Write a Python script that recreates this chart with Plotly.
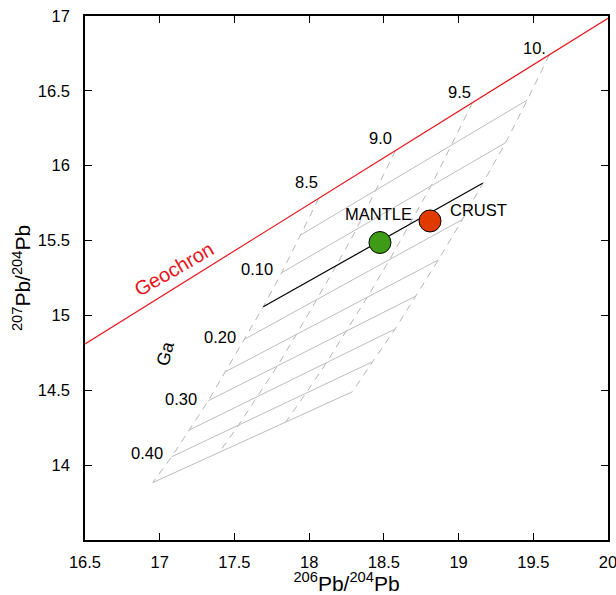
import plotly.graph_objects as go

# ---------------- data ----------------
x_ticks = [16.5, 17, 17.5, 18, 18.5, 19, 19.5, 20]
x_tick_text = ["16.5", "17", "17.5", "18", "18.5", "19", "19.5", "20"]
y_ticks = [14, 14.5, 15, 15.5, 16, 16.5, 17]
y_tick_text = ["14", "14.5", "15", "15.5", "16", "16.5", "17"]

# Geochron line
geochron_x = [16.5, 20.0]
geochron_y = [14.81, 16.985]

# Grid nodes: rows from geochron (top) to oldest (bottom); columns are mu values
mu_labels = ["8.5", "9.0", "9.5", "10."]
mu85_x = [18.064, 17.943, 17.816, 17.693, 17.564, 17.440, 17.325, 17.198, 17.080, 16.953]
mu85_y = [15.782, 15.537, 15.285, 15.058, 14.839, 14.624, 14.430, 14.235, 14.056, 13.883]
mu90_x = [18.578, 18.449, 18.316, 18.182, 18.051, 17.915, 17.788, 17.657, 17.528, 17.398]
mu90_y = [16.101, 15.838, 15.575, 15.333, 15.106, 14.873, 14.663, 14.460, 14.268, 14.085]
mu95_x = [19.093, 18.954, 18.815, 18.672, 18.539, 18.389, 18.252, 18.116, 17.977, 17.844]
mu95_y = [16.421, 16.138, 15.864, 15.608, 15.374, 15.121, 14.897, 14.684, 14.479, 14.288]
mu100_x = [19.607, 19.460, 19.315, 19.161, 19.026, 18.864, 18.715, 18.575, 18.425, 18.289]
mu100_y = [16.740, 16.439, 16.154, 15.883, 15.641, 15.370, 15.130, 14.909, 14.691, 14.490]

# index of the row drawn in black (mantle-crust line)
black_row = 3

# Ga labels for rows
age_labels = ["0.10", "0.20", "0.30", "0.40"]
age_label_x = [17.653, 17.403, 17.142, 16.917]
age_label_y = [15.310, 14.858, 14.442, 14.079]
mu_label_x = [17.979, 18.479, 19.004, 19.511]
mu_label_y = [15.891, 16.183, 16.494, 16.784]

# Reservoirs
res_names = ["MANTLE", "CRUST"]
res_x = [18.474, 18.809]
res_y = [15.487, 15.631]
res_colors = ["#3d9b16", "#e03a00"]
res_label_x = [18.461, 19.130]
res_label_y = [15.677, 15.704]

# ---------------- figure ----------------
FONT = "Liberation Sans, Arial, sans-serif"
fig = go.Figure()

cols_x = [mu85_x, mu90_x, mu95_x, mu100_x]
cols_y = [mu85_y, mu90_y, mu95_y, mu100_y]

# dashed mu curves
for cx, cy in zip(cols_x, cols_y):
    fig.add_trace(go.Scatter(x=cx, y=cy, mode="lines",
                             line=dict(color="#b4b4b4", width=1, dash="7px,6px"),
                             hoverinfo="skip", showlegend=False))

# solid age lines (skip geochron row 0)
for r in range(1, len(mu85_x)):
    lx = [c[r] for c in cols_x]
    ly = [c[r] for c in cols_y]
    if r == black_row:
        continue
    fig.add_trace(go.Scatter(x=lx, y=ly, mode="lines",
                             line=dict(color="#bdbdbd", width=1),
                             hoverinfo="skip", showlegend=False))

# black line
fig.add_trace(go.Scatter(x=[c[black_row] for c in cols_x], y=[c[black_row] for c in cols_y],
                         mode="lines", line=dict(color="black", width=1.2),
                         hoverinfo="skip", showlegend=False))

# geochron
fig.add_trace(go.Scatter(x=geochron_x, y=geochron_y, mode="lines",
                         line=dict(color="#e8141c", width=1.2),
                         hoverinfo="skip", showlegend=False))

# reservoirs
fig.add_trace(go.Scatter(x=res_x, y=res_y, mode="markers",
                         marker=dict(size=22, color=res_colors, line=dict(color="black", width=1)),
                         hoverinfo="skip", showlegend=False))

ann = []
def label(x, y, t, size=16.5, color="black", angle=0):
    ann.append(dict(x=x, y=y, xref="x", yref="y", text=t, showarrow=False,
                    font=dict(family=FONT, size=size, color=color),
                    textangle=angle, xanchor="center", yanchor="middle"))

for t, x, y in zip(mu_labels, mu_label_x, mu_label_y):
    label(x, y, t)
for t, x, y in zip(age_labels, age_label_x, age_label_y):
    label(x, y, t)
for t, x, y in zip(res_names, res_label_x, res_label_y):
    label(x, y, t)
label(17.040, 14.747, "Ga", size=18, angle=-75)
label(17.096, 15.310, "Geochron", size=20, color="#e8141c", angle=-30)

axis_common = dict(showline=True, linecolor="black", linewidth=1.5, mirror="allticks",
                   ticks="inside", ticklen=7, tickcolor="black", tickwidth=1,
                   showgrid=False, zeroline=False, automargin=False,
                   ticklabeloverflow="allow",
                   tickfont=dict(family=FONT, size=16.5, color="black"))

fig.update_layout(
    width=616, height=595,
    margin=dict(l=85, r=8, t=16, b=55),
    plot_bgcolor="white", paper_bgcolor="white",
    annotations=ann,
    xaxis=dict(range=[16.5, 20], tickvals=x_ticks, ticktext=x_tick_text,
               title=dict(text="<sup>206</sup>Pb/<sup>204</sup>Pb",
                          font=dict(family=FONT, size=21, color="black"), standoff=4),
               ticklabelstandoff=6, **axis_common),
    yaxis=dict(range=[13.5, 17], tickvals=y_ticks, ticktext=y_tick_text,
               title=dict(text="<sup>207</sup>Pb/<sup>204</sup>Pb",
                          font=dict(family=FONT, size=21, color="black"), standoff=1),
               ticklabelstandoff=10, **axis_common),
)

fig.write_html("out.html")
